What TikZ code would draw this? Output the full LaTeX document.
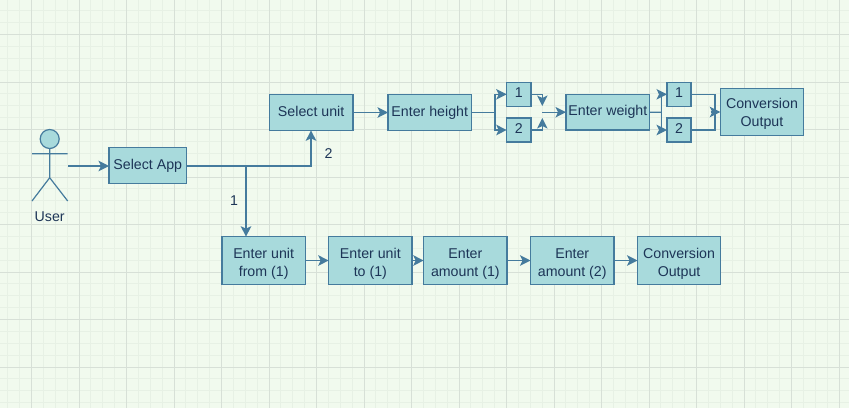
\documentclass[tikz,border=0pt]{standalone}
\usepackage{fontspec}
\setmainfont{Liberation Sans}
\usetikzlibrary{arrows.meta}
\definecolor{bgc}{HTML}{F1FAEE}
\definecolor{fillc}{HTML}{A8DADC}
\definecolor{strokec}{HTML}{457B9D}
\definecolor{textc}{HTML}{1D3557}
\definecolor{minorc}{HTML}{E7F1E5}
\definecolor{majorc}{HTML}{D7E0D7}
\tikzset{
  x=1pt,y=-1pt,
  box/.style={draw=strokec,fill=fillc,line width=1.4pt,text=textc,align=center,inner sep=0pt,outer sep=0pt,
     font=\fontsize{14.2}{18}\selectfont},
  plain/.style={text=textc,inner sep=0pt,font=\fontsize{14.2}{18}\selectfont},
  line/.style={draw=strokec,line width=1.4pt},
  conn/.style={line,-{Stealth[length=10.5pt,width=10.5pt,inset=2.5pt]}},
}
\newcommand{\bx}[6]{\node[box,minimum width=#3-#2,minimum height=#5-#4] (#1) at ({(#2+#3)/2},{(#4+#5)/2}) {#6};}
\newcommand{\up}{\rule{0pt}{17pt}}
\newcommand{\ph}{\vphantom{Ag}}
\begin{document}
\begin{tikzpicture}
\useasboundingbox (0,0) rectangle (849,408);
\fill[bgc] (0,0) rectangle (849,408);
% grid
\foreach \i in {-2,...,70} {
  \draw[minorc,line width=1pt] ({31.6+11.875*\i},0) -- ({31.6+11.875*\i},408);
}
\foreach \i in {-2,...,35} {
  \draw[minorc,line width=1pt] (0,{34.5+11.875*\i}) -- (849,{34.5+11.875*\i});
}
\foreach \i in {0,...,17} {
  \draw[majorc,line width=1pt] ({31.6+47.5*\i},0) -- ({31.6+47.5*\i},408);
}
\foreach \i in {0,...,8} {
  \draw[majorc,line width=1pt] (0,{34.5+47.5*\i}) -- (849,{34.5+47.5*\i});
}
% actor
\node[draw=strokec,fill=fillc,line width=1.2pt,circle,minimum size=19pt,inner sep=0pt] (head) at (49.7,139) {};
\coordinate (neck) at (49.7,148.5);
\coordinate (hip) at (49.7,177.7);
\coordinate (armL) at (32,153.7);
\coordinate (armR) at (67.7,153.7);
\coordinate (legL) at (32,201);
\coordinate (legR) at (67.7,201);
\coordinate (actorOut) at (68,166);
\draw[line,line width=1.2pt] (neck) -- (hip) (armL) -- (armR) (legL) -- (hip) -- (legR);
\node[plain] (user) at (49.7,217) {User};
% boxes
\bx{app}{109}{186.5}{147.7}{183.3}{\ph Select App}
\bx{unit}{269.3}{353}{94.7}{130.3}{\ph Select unit}
\bx{height}{388}{471.5}{94.7}{130.3}{\ph Enter height}
\bx{aa}{506.7}{531}{82.3}{106.3}{\ph 1}
\bx{ab}{506.7}{531}{118}{142}{\ph 2}
\bx{weight}{566}{649.7}{94.5}{130}{\ph Enter weight}
\bx{ba}{667}{691}{82.3}{106.3}{\ph 1}
\bx{bb}{667}{691}{118}{142}{\ph 2}
\bx{convA}{720.3}{803.7}{88.3}{135.7}{\rule{0pt}{14pt}Conversion\\Output}
\bx{from}{222}{305.3}{236.7}{284.3}{\up Enter unit\\from (1)}
\bx{to}{328.7}{412}{236.7}{284.3}{\up Enter unit\\to (1)}
\bx{amtA}{423.7}{507}{236.7}{284.3}{\up Enter\\amount (1)}
\bx{amtB}{530.5}{614}{236.7}{284.3}{\up Enter\\amount (2)}
\bx{convB}{637.5}{720.7}{236.7}{284.3}{\up Conversion\\Output}
% labels
\node[plain] (lone) at (234,201) {1};
\node[plain] (ltwo) at (328.5,154) {2};
% helper coordinates
\coordinate (j1) at (246,166);
\coordinate (j2) at (311,166);
\coordinate (j3) at (495,112.5);
\coordinate (j4) at (661.3,112.2);
\coordinate (j5) at (715,112);
\coordinate (m1) at (542.3,94.3);
\coordinate (m2) at (542.3,130);
\coordinate (m1t) at (542.3,106);
\coordinate (m2t) at (542.3,118);
\coordinate (ms) at (542.3,112.2);
% connectors
\draw[conn] (actorOut) -- (app.west |- actorOut);
\draw[conn] (app.east |- j1) -- (j2) -- (j2 |- unit.south);
\draw[conn] (j1) -- (j1 |- from.north);
\draw[conn] (unit) -- (height);
\draw[line] (height.east |- j3) -- (j3);
\draw[conn] (j3) |- (aa.west);
\draw[conn] (j3) |- (ab.west);
\draw[conn] (aa.east) -- (m1) -- (m1t);
\draw[conn] (ab.east) -- (m2) -- (m2t);
\draw[conn] (ms) -- (ms -| weight.west);
\draw[line] (weight.east) -- (j4);
\draw[conn] (j4) |- (ba.west);
\draw[conn] (j4) |- (bb.west);
\draw[line] (ba.east) -| (j5);
\draw[line] (bb.east) -| (j5);
\draw[conn] (j5 |- convA.west) ++(-4.5,0) -- (convA.west);
\draw[conn] (from.east |- to.west) -- (to.west);
\draw[conn] (to.east) -- (amtA.west);
\draw[conn] (amtA.east) -- (amtB.west);
\draw[conn] (amtB.east) -- (convB.west);
\end{tikzpicture}
\end{document}
